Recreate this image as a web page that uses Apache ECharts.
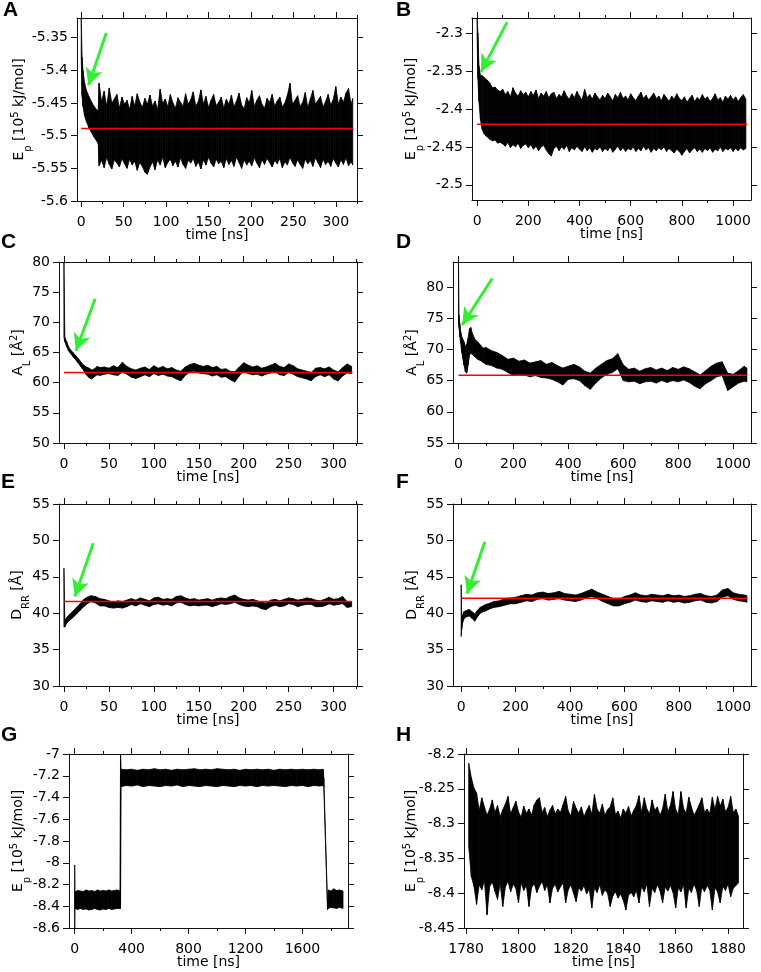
<!DOCTYPE html>
<html>
<head>
<meta charset="utf-8">
<script src="https://cdn.jsdelivr.net/npm/echarts@6/dist/echarts.min.js"></script>
<style>html,body{margin:0;padding:0;background:#fff}#c{width:761px;height:972px}</style>
</head>
<body>
<div id="c"></div>
<script>
// ---------- Panel A : Ep (10^5 kJ/mol), 0-320 ns ----------
const tA = [0,1,2,4,6,9,12,15,18,20,
 21,24,27,30,33,36,39,42,45,48, 51,54,57,60,63,66,69,72,75,78, 81,84,87,90,93,96,99,102,105,108,
 111,114,117,120,123,126,129,132,135,138, 141,144,147,150,153,156,159,162,165,168, 171,174,177,180,183,186,189,192,195,198,
 201,204,207,210,213,216,219,222,225,228, 231,234,237,240,243,246,249,252,255,258, 261,264,267,270,273,276,279,282,285,288,
 291,294,297,300,303,306,309,312,315,318, 320];
const hiA = [-5.32,-5.38,-5.40,-5.42,-5.43,-5.44,-5.448,-5.455,-5.46,-5.462,
 -5.42,-5.448,-5.432,-5.455,-5.427,-5.45,-5.444,-5.437,-5.458,-5.441,
 -5.452,-5.446,-5.46,-5.44,-5.455,-5.436,-5.449,-5.457,-5.443,-5.452,
 -5.438,-5.455,-5.447,-5.46,-5.429,-5.451,-5.444,-5.456,-5.437,-5.45,
 -5.458,-5.442,-5.449,-5.455,-5.436,-5.452,-5.445,-5.433,-5.455,-5.448,
 -5.43,-5.452,-5.44,-5.457,-5.446,-5.437,-5.454,-5.449,-5.441,-5.458,
 -5.444,-5.452,-5.438,-5.456,-5.447,-5.435,-5.453,-5.459,-5.442,-5.45,
 -5.431,-5.455,-5.446,-5.439,-5.452,-5.458,-5.443,-5.449,-5.437,-5.455,
 -5.447,-5.441,-5.456,-5.45,-5.438,-5.42,-5.452,-5.446,-5.439,-5.455,
 -5.449,-5.434,-5.457,-5.444,-5.431,-5.452,-5.446,-5.44,-5.456,-5.448,
 -5.437,-5.453,-5.445,-5.425,-5.452,-5.441,-5.449,-5.435,-5.428,-5.452,
 -5.443];
const loA = [-5.38,-5.44,-5.455,-5.47,-5.478,-5.488,-5.495,-5.502,-5.508,-5.512,
 -5.546,-5.538,-5.549,-5.533,-5.544,-5.551,-5.537,-5.542,-5.548,-5.535,
 -5.543,-5.55,-5.536,-5.545,-5.539,-5.553,-5.541,-5.547,-5.556,-5.559,
 -5.548,-5.54,-5.552,-5.537,-5.545,-5.533,-5.549,-5.541,-5.536,-5.546,
 -5.539,-5.548,-5.534,-5.544,-5.55,-5.538,-5.542,-5.535,-5.547,-5.54,
 -5.551,-5.537,-5.545,-5.533,-5.542,-5.548,-5.536,-5.543,-5.539,-5.549,
 -5.535,-5.544,-5.538,-5.547,-5.533,-5.541,-5.55,-5.537,-5.545,-5.539,
 -5.546,-5.534,-5.542,-5.549,-5.537,-5.544,-5.535,-5.541,-5.548,-5.538,
 -5.543,-5.535,-5.549,-5.54,-5.545,-5.533,-5.542,-5.547,-5.537,-5.544,
 -5.55,-5.536,-5.543,-5.538,-5.547,-5.534,-5.541,-5.549,-5.536,-5.544,
 -5.539,-5.547,-5.535,-5.542,-5.548,-5.537,-5.544,-5.534,-5.546,-5.54,
 -5.545];
const meanA = -5.489, spanA = [0, 320];
const arrowA = [[29.5, -5.343], [8.6, -5.423]];

// ---------- Panel B : Ep, 0-1050 ns ----------
const tB = [0,3,7,13,20,26,33,40,50,60,70,80,90,
 100,110,120,130,140,150,160,170,180,190, 200,210,220,230,240,250,260,270,280,290,
 300,310,320,330,340,350,360,370,380,390, 400,410,420,430,440,450,460,470,480,490,
 500,510,520,530,540,550,560,570,580,590, 600,610,620,630,640,650,660,670,680,690,
 700,710,720,730,740,750,760,770,780,790, 800,810,820,830,840,850,860,870,880,890,
 900,910,920,930,940,950,960,970,980,990, 1000,1010,1020,1030,1040,1050];
const hiB = [-2.28,-2.30,-2.343,-2.356,-2.356,-2.358,-2.36,-2.362,-2.366,-2.372,-2.371,-2.375,-2.377,
 -2.374,-2.381,-2.377,-2.384,-2.372,-2.379,-2.383,-2.376,-2.381,-2.378,
 -2.384,-2.377,-2.382,-2.375,-2.386,-2.379,-2.383,-2.377,-2.385,-2.38,
 -2.378,-2.386,-2.381,-2.384,-2.376,-2.383,-2.387,-2.38,-2.385,-2.377,
 -2.383,-2.388,-2.374,-2.385,-2.381,-2.387,-2.379,-2.384,-2.388,-2.382,
 -2.386,-2.379,-2.384,-2.389,-2.381,-2.385,-2.378,-2.386,-2.383,-2.388,
 -2.38,-2.385,-2.389,-2.383,-2.378,-2.386,-2.382,-2.388,-2.384,-2.379,
 -2.386,-2.383,-2.389,-2.381,-2.385,-2.39,-2.383,-2.387,-2.38,-2.386,
 -2.389,-2.384,-2.391,-2.386,-2.382,-2.39,-2.385,-2.388,-2.381,-2.387,
 -2.384,-2.39,-2.386,-2.38,-2.388,-2.385,-2.391,-2.383,-2.387,-2.382,
 -2.388,-2.384,-2.39,-2.385,-2.381,-2.387];
const loB = [-2.30,-2.36,-2.39,-2.414,-2.427,-2.432,-2.435,-2.437,-2.44,-2.442,-2.441,-2.445,-2.444,
 -2.446,-2.449,-2.444,-2.451,-2.447,-2.45,-2.445,-2.452,-2.448,-2.446,
 -2.451,-2.447,-2.453,-2.449,-2.455,-2.45,-2.448,-2.454,-2.459,-2.462,
 -2.452,-2.449,-2.455,-2.45,-2.453,-2.448,-2.456,-2.451,-2.454,-2.449,
 -2.453,-2.456,-2.45,-2.455,-2.451,-2.457,-2.452,-2.454,-2.45,-2.456,
 -2.452,-2.455,-2.45,-2.457,-2.453,-2.449,-2.455,-2.451,-2.456,-2.452,
 -2.454,-2.45,-2.456,-2.452,-2.455,-2.449,-2.454,-2.451,-2.457,-2.452,
 -2.455,-2.451,-2.454,-2.45,-2.456,-2.452,-2.455,-2.458,-2.453,-2.456,
 -2.461,-2.456,-2.452,-2.458,-2.454,-2.451,-2.456,-2.453,-2.457,-2.452,
 -2.455,-2.451,-2.457,-2.453,-2.455,-2.45,-2.456,-2.452,-2.454,-2.451,
 -2.456,-2.452,-2.455,-2.451,-2.454,-2.452];
const meanB = -2.42, spanB = [0, 1055];
const arrowB = [[117, -2.2854], [15.6, -2.351]];

// ---------- Panel C : AL (Å^2), 0-320 ns ----------
const tC = [0,1,3,5,7,10,13,16,19,22,25,28,31,34,37,40,45,50,55,60,65,70,75,80,85,90,95,100,105,110,115,120,125,130,135,140,145,150,155,160,165,170,175,180,185,190,195,200,205,210,215,220,225,230,235,240,245,250,255,260,265,270,275,280,285,290,295,300,305,310,315,320];
const hiC = [80,67.5,66.8,66.0,65.5,65.0,64.5,64.0,63.4,62.9,62.6,62.4,62.1,62.3,62.7,62.5,
 62.6,62.4,62.8,62.5,63.4,62.7,62.3,62.1,62.4,62.6,
 62.2,62.8,62.4,62.7,62.3,62.5,62.1,61.9,62.6,63.0,
 63.2,62.9,62.7,62.9,62.5,62.7,62.2,62.3,61.9,61.8,
 62.6,63.3,62.9,62.6,62.8,62.4,62.6,62.9,63.2,62.7,
 62.5,63.1,62.8,62.3,62.1,61.9,61.7,62.4,62.5,62.3,
 62.6,62.1,61.8,62.5,63.1,62.7];
const loC = [67.5,66.8,66.0,65.3,64.9,64.3,63.8,63.2,62.6,62.0,61.3,60.8,60.6,61.0,61.3,61.2,
 61.4,61.5,61.3,61.2,61.8,61.4,60.9,60.7,61.0,61.3,
 61.0,61.5,61.2,61.4,61.1,61.0,60.6,60.3,61.2,61.8,
 61.9,61.6,61.5,61.4,61.1,61.3,60.9,61.0,60.5,60.1,
 61.1,61.9,61.5,61.3,61.4,61.1,61.4,61.6,61.8,61.3,
 61.2,61.7,61.4,61.0,60.8,60.6,60.3,61.0,61.3,61.0,
 61.3,60.6,60.3,61.1,61.6,61.5];
const meanC = 61.7, spanC = [0, 321];
const arrowC = [[34.7, 73.9], [13.4, 65.3]];

// ---------- Panel D : AL (Å^2), 0-1050 ns ----------
const tD = [0,2,5,8,12,16,20,25,30,35,40,45,50,60,70,80,90,100,120,140,160,180,200,220,240,260,280,300,320,340,360,380,400,420,440,460,480,500,520,540,560,580,600,620,640,660,680,700,720,740,760,780,800,820,840,860,880,900,920,940,960,980,1000,1020,1040,1050];
const hiD = [84,75.5,74,72.8,72,71.6,71.2,70.5,70.8,71.8,73.3,73.5,72.6,71.6,71.2,70.7,70.2,70.3,
 69.8,69.5,69.0,68.4,68.6,68.1,68.3,67.8,68.0,68.2,
 67.6,67.9,67.4,67.0,67.3,67.6,67.2,66.5,66.2,67.0,
 67.6,68.2,68.5,69.3,67.5,66.8,67.0,66.5,66.9,67.1,
 66.7,67.0,66.6,67.1,66.8,67.2,66.9,66.4,65.9,66.6,
 67.3,67.8,68.0,66.2,66.0,66.6,67.3,67.0];
const loD = [74.5,73.5,72,71,69.5,68.5,67.5,66.4,66.2,67.5,69.0,69.5,69.2,68.8,68.4,68.2,67.9,67.6,
 67.4,67.0,66.8,66.3,65.8,66.0,65.9,65.6,65.8,65.5,
 65.4,65.2,64.8,64.3,65.2,65.3,65.0,64.2,63.6,64.6,
 65.4,66.0,66.3,66.9,65.0,64.8,64.9,64.5,64.8,64.9,
 64.6,65.0,64.7,65.0,64.8,65.1,64.7,64.1,63.7,64.5,
 65.0,65.6,65.8,63.4,64.0,64.6,64.9,64.8];
const meanD = 65.85, spanD = [0, 1050];
const arrowD = [[122.8, 81.35], [13.5, 73.9]];

// ---------- Panel E : DRR (Å), 0-320 ns ----------
const tE = [0,1,3,6,10,14,18,22,26,30,35,40,45,50,55,60,65,70,75,80,85,90,95,100,105,110,115,120,125,130,135,140,145,150,155,160,165,170,175,180,185,190,195,200,205,210,215,220,225,230,235,240,245,250,255,260,265,270,275,280,285,290,295,300,305,310,315,320];
const hiE = [46.2,39.0,39.4,39.8,40.3,40.8,41.3,41.9,42.2,42.4,42.3,
 42.0,41.9,41.7,41.5,41.7,41.6,41.8,42.0,41.8,42.1,
 41.9,41.7,42.1,42.2,41.9,42.0,41.9,42.3,42.4,42.1,
 41.9,42.0,41.8,41.9,42.0,41.8,42.0,42.1,42.0,42.3,
 42.5,42.1,41.9,41.8,41.9,41.7,41.5,41.4,41.8,41.9,
 41.7,41.9,42.1,42.0,41.8,41.9,42.1,42.0,41.8,41.7,
 41.9,42.2,41.9,42.0,42.3,41.6,41.6];
const loE = [38.1,38.1,38.6,39.0,39.4,39.9,40.4,40.9,41.3,41.6,41.4,
 41.0,41.0,40.8,40.7,40.8,40.7,40.9,41.2,41.0,41.3,
 41.1,40.9,41.2,41.3,41.1,41.2,41.0,41.4,41.5,41.2,
 41.0,41.1,41.0,41.1,41.1,40.9,41.1,41.3,41.2,41.3,
 41.5,41.2,41.0,40.9,41.0,40.9,40.6,40.5,40.9,41.1,
 40.9,41.0,41.3,41.2,40.9,41.1,41.2,41.2,40.9,40.9,
 41.0,41.3,41.1,41.2,41.3,40.8,40.9];
const meanE = 41.6, spanE = [0, 320];
const arrowE = [[32.6, 49.6], [12.2, 42.3]];

// ---------- Panel F : DRR (Å), 0-1050 ns ----------
const tF = [0,2,5,10,15,20,30,40,50,60,70,80,90,100,120,140,160,180,200,220,240,260,280,300,320,340,360,380,400,420,440,460,480,500,520,540,560,580,600,620,640,660,680,700,720,740,760,780,800,820,840,860,880,900,920,940,960,980,1000,1020,1040,1050];
const hiF = [43.9,39.2,39.7,40.2,40.3,40.4,40.5,40.2,39.9,40.4,40.8,41.0,41.2,41.3,
 41.6,41.7,42.0,42.1,42.2,42.4,42.6,42.5,42.8,42.9,
 42.7,42.8,43.0,42.7,42.6,42.5,42.7,43.0,43.3,42.9,
 42.6,42.3,42.0,41.9,42.3,42.5,42.8,42.5,42.4,42.6,
 42.5,42.4,42.6,42.4,42.5,42.3,42.4,42.6,42.7,42.4,
 42.3,42.5,43.2,43.4,42.8,42.6,42.5,42.4];
const loF = [36.8,37.8,38.6,39.2,39.4,39.5,39.6,39.3,38.9,39.5,40.0,40.2,40.3,40.5,
 40.8,40.9,41.1,41.3,41.3,41.5,41.7,41.6,41.9,42.0,
 41.8,41.9,42.0,41.8,41.7,41.6,41.8,42.1,42.3,42.0,
 41.6,41.3,41.0,41.0,41.3,41.5,41.8,41.6,41.5,41.7,
 41.6,41.5,41.7,41.5,41.6,41.4,41.5,41.7,41.8,41.5,
 41.4,41.6,42.2,42.4,41.9,41.7,41.6,41.5];
const meanF = 42.05, spanF = [0, 1050];
const arrowF = [[87, 49.8], [22, 42.7]];

// ---------- Panel G : Ep, 0-1890 ns ----------
const tG = [0,2,20,40,60,80,100,120,140,160,180,200,220,240,260,280,300,318,322,326,360,400,440,480,520,560,600,640,680,720,760,800,840,880,920,960,1000,1040,1080,1120,1160,1200,1240,1280,1320,1360,1400,1440,1480,1520,1560,1600,1640,1680,1720,1745,1750,1776,1782,1800,1820,1840,1860,1885];
const hiG = [-8.02,-8.27,-8.255,-8.26,-8.265,-8.25,-8.26,-8.255,-8.265,-8.25,-8.26,-8.255,-8.26,-8.25,-8.26,-8.255,-8.25,-8.26,
 -7.0,-7.14,
 -7.145,-7.14,-7.15,-7.14,-7.145,-7.135,-7.145,-7.14,-7.15,-7.14,
 -7.145,-7.14,-7.135,-7.145,-7.14,-7.145,-7.135,-7.14,-7.145,-7.14,
 -7.15,-7.14,-7.145,-7.14,-7.145,-7.14,-7.15,-7.14,-7.145,-7.14,
 -7.145,-7.14,-7.145,-7.14,-7.145,
 -7.14,-7.22,-8.38,-8.25,-8.26,-8.24,-8.255,-8.25,-8.26];
const loG = [-8.6,-8.42,-8.43,-8.42,-8.43,-8.425,-8.435,-8.43,-8.42,-8.43,-8.435,-8.425,-8.43,-8.42,-8.43,-8.425,-8.42,-8.42,
 -8.42,-7.3,
 -7.29,-7.295,-7.285,-7.3,-7.29,-7.295,-7.3,-7.29,-7.295,-7.285,
 -7.3,-7.29,-7.295,-7.3,-7.29,-7.295,-7.3,-7.29,-7.295,-7.3,
 -7.29,-7.295,-7.29,-7.3,-7.29,-7.295,-7.29,-7.295,-7.3,-7.29,
 -7.295,-7.29,-7.3,-7.29,-7.295,
 -7.29,-7.30,-8.43,-8.42,-8.41,-8.415,-8.42,-8.41,-8.42];

// ---------- Panel H : Ep, 1780-1885 ns ----------
const tH = [1781,1782,1783,
 1784,1785,1786,1787,1788,1789,1790,1791,1792,1793, 1794,1795,1796,1797,1798,1799,1800,1801,1802,1803,
 1804,1805,1806,1807,1808,1809,1810,1811,1812,1813, 1814,1815,1816,1817,1818,1819,1820,1821,1822,1823,
 1824,1825,1826,1827,1828,1829,1830,1831,1832,1833, 1834,1835,1836,1837,1838,1839,1840,1841,1842,1843,
 1844,1845,1846,1847,1848,1849,1850,1851,1852,1853, 1854,1855,1856,1857,1858,1859,1860,1861,1862,1863,
 1864,1865,1866,1867,1868,1869,1870,1871,1872,1873, 1874,1875,1876,1877,1878,1879,1880,1881,1882,1883, 1884];
const hiH = [-8.213,-8.234,-8.249,
 -8.256,-8.281,-8.263,-8.276,-8.288,-8.279,-8.266,-8.284,-8.274,-8.29,
 -8.28,-8.272,-8.261,-8.286,-8.277,-8.268,-8.283,-8.291,-8.275,-8.285,
 -8.279,-8.288,-8.273,-8.266,-8.263,-8.284,-8.277,-8.29,-8.281,-8.274,
 -8.286,-8.279,-8.284,-8.273,-8.261,-8.282,-8.289,-8.268,-8.278,-8.285,
 -8.276,-8.29,-8.281,-8.274,-8.287,-8.258,-8.279,-8.285,-8.272,-8.288,
 -8.28,-8.276,-8.263,-8.287,-8.282,-8.292,-8.279,-8.285,-8.275,-8.289,
 -8.281,-8.274,-8.26,-8.284,-8.263,-8.279,-8.286,-8.266,-8.281,-8.276,
 -8.288,-8.279,-8.258,-8.283,-8.274,-8.254,-8.28,-8.287,-8.254,-8.278,
 -8.285,-8.262,-8.276,-8.288,-8.281,-8.273,-8.263,-8.284,-8.279,-8.286,
 -8.262,-8.28,-8.261,-8.275,-8.265,-8.283,-8.277,-8.261,-8.284,-8.279,
 -8.29];
const loH = [-8.333,-8.376,-8.39,
 -8.416,-8.388,-8.395,-8.382,-8.431,-8.39,-8.384,-8.397,-8.409,-8.386,
 -8.419,-8.391,-8.383,-8.398,-8.387,-8.393,-8.414,-8.385,-8.396,-8.389,
 -8.419,-8.392,-8.386,-8.399,-8.39,-8.383,-8.396,-8.388,-8.414,-8.393,
 -8.387,-8.398,-8.391,-8.385,-8.414,-8.395,-8.388,-8.4,-8.412,-8.392,
 -8.397,-8.389,-8.401,-8.394,-8.421,-8.392,-8.399,-8.388,-8.403,-8.395,
 -8.4,-8.419,-8.404,-8.398,-8.407,-8.401,-8.41,-8.424,-8.403,-8.399,
 -8.405,-8.396,-8.414,-8.39,-8.398,-8.387,-8.419,-8.393,-8.399,-8.388,
 -8.396,-8.414,-8.391,-8.397,-8.389,-8.399,-8.421,-8.392,-8.398,-8.388,
 -8.421,-8.393,-8.399,-8.387,-8.396,-8.419,-8.391,-8.398,-8.389,-8.395,
 -8.424,-8.392,-8.398,-8.414,-8.39,-8.396,-8.387,-8.405,-8.393,-8.389,
 -8.385];

// ---------- tick values ----------
const xMaj320 = [0,50,100,150,200,250,300];
const xMin320 = [25,75,125,175,225,275,325];
const xMaj1000 = [0,200,400,600,800,1000];
const xMin1000 = [100,300,500,700,900];
const xMajG = [0,400,800,1200,1600];
const xMinG = [200,600,1000,1400,1800];
const xMajH = [1780,1800,1820,1840,1860,1880];
const xMinH = [1790,1810,1830,1850,1870];
const yMajA = [-5.6,-5.55,-5.5,-5.45,-5.4,-5.35];
const yMajB = [-2.5,-2.45,-2.4,-2.35,-2.3];
const yMajC = [50,55,60,65,70,75,80];
const yMajD = [55,60,65,70,75,80];
const yMajEF = [30,35,40,45,50,55];
const yMajG = [-8.6,-8.4,-8.2,-8,-7.8,-7.6,-7.4,-7.2,-7];
const yMajH = [-8.45,-8.4,-8.35,-8.3,-8.25,-8.2];

// ---------- text ----------
const nameEp = 'E{sub|p} [10{sup|5} kJ/mol]';
const nameAL = 'A{sub|L} [Å{sup|2}]';
const nameDRR = 'D{sub|RR} [Å]';
const xName = 'time [ns]';

// ---------- layout / style ----------
const FONT = "'DejaVu Sans', sans-serif";
const AX = '#111';
const GREEN = '#33ee33';
const panels = [
  {tag:'A', tagPos:[3,0],   box:[77,18,280,183],  xr:[-5,325],   yr:[-5.6,-5.32], t:tA, hi:hiA, lo:loA, mean:meanA, span:spanA, arrow:arrowA, xMaj:xMaj320, xMinB:xMin320, xMinT:xMin320, yMaj:yMajA, yName:nameEp, gap:44},
  {tag:'B', tagPos:[396,0], box:[472,18,279,182], xr:[-20,1070], yr:[-2.52,-2.28], t:tB, hi:hiB, lo:loB, mean:meanB, span:spanB, arrow:arrowB, xMaj:xMaj1000, xMinB:xMin1000, xMinT:xMin1000, yMaj:yMajB, yName:nameEp, gap:47},
  {tag:'C', tagPos:[1,232], box:[59,262,298,181], xr:[-5.5,326], yr:[50,80], t:tC, hi:hiC, lo:loC, mean:meanC, span:spanC, arrow:arrowC, xMaj:xMaj320, xMinB:xMin320, xMinT:xMin320, yMaj:yMajC, yName:nameAL, gap:27},
  {tag:'D', tagPos:[396,232], box:[453,262,298,181], xr:[-20,1065], yr:[55,84], t:tD, hi:hiD, lo:loD, mean:meanD, span:spanD, arrow:arrowD, xMaj:xMaj1000, xMinB:xMin1000, xMinT:[], yMaj:yMajD, yName:nameAL, gap:27},
  {tag:'E', tagPos:[1,472], box:[59,504,298,182], xr:[-5.5,326], yr:[30,55], t:tE, hi:hiE, lo:loE, mean:meanE, span:spanE, arrow:arrowE, xMaj:xMaj320, xMinB:xMin320, xMinT:xMin320, yMaj:yMajEF, yName:nameDRR, gap:28},
  {tag:'F', tagPos:[396,472], box:[453,504,298,182], xr:[-30,1065], yr:[30,55], t:tF, hi:hiF, lo:loF, mean:meanF, span:spanF, arrow:arrowF, xMaj:xMaj1000, xMinB:xMin1000, xMinT:xMin1000, yMaj:yMajEF, yName:nameDRR, gap:27},
  {tag:'G', tagPos:[1,725], box:[69,754,279,174], xr:[-40,1920], yr:[-8.6,-7], t:tG, hi:hiG, lo:loG, mean:null, xMaj:xMajG, xMinB:xMinG, xMinT:xMinG, yMaj:yMajG, yName:nameEp, gap:37},
  {tag:'H', tagPos:[396,725], box:[464,754,279,174], xr:[1779.2,1885.7], yr:[-8.45,-8.2], t:tH, hi:hiH, lo:loH, mean:null, xMaj:xMajH, xMinB:xMinH, xMinT:[], yMaj:yMajH, yName:nameEp, gap:39}
];

const grid = [], xAxis = [], yAxis = [], series = [], graphic = [];
const fmt = v => String(v);
const richName = {
  fontFamily: FONT, fontSize: 14, color: '#000', lineHeight: 28,
  rich: {
    sub: {fontFamily: FONT, fontSize: 10, lineHeight: 10, verticalAlign: 'bottom', color: '#000'},
    sup: {fontFamily: FONT, fontSize: 10, lineHeight: 10, verticalAlign: 'top', padding: [5, 0, 0, 0], color: '#000'}
  }
};

panels.forEach((p, i) => {
  grid.push({left: p.box[0], top: p.box[1], width: p.box[2], height: p.box[3], containLabel: false, outerBoundsMode: 'none'});
  const xb = {type: 'value', gridIndex: i, min: p.xr[0], max: p.xr[1], splitLine: {show: false}, silent: true};
  const line = {show: true, onZero: false, lineStyle: {color: AX, width: 1}};
  const noLine = {show: false, onZero: false};
  const tick = (vals, len) => ({show: true, inside: false, length: len, customValues: vals, lineStyle: {color: AX, width: 1}});
  xAxis.push(Object.assign({}, xb, {position: 'bottom', axisLine: line, axisTick: tick(p.xMaj, 6),
    axisLabel: {show: true, customValues: p.xMaj, margin: 14, fontFamily: FONT, fontSize: 14, color: '#000', formatter: fmt},
    name: xName, nameLocation: 'middle', nameGap: 26, nameMoveOverlap: false,
    nameTextStyle: {fontFamily: FONT, fontSize: 14, color: '#000', lineHeight: 16}}));
  xAxis.push(Object.assign({}, xb, {position: 'bottom', axisLine: noLine, axisTick: tick(p.xMinB, 3), axisLabel: {show: false}}));
  xAxis.push(Object.assign({}, xb, {position: 'top', axisLine: line, axisTick: tick(p.xMaj, 6), axisLabel: {show: false}}));
  xAxis.push(Object.assign({}, xb, {position: 'top', axisLine: noLine, axisTick: tick(p.xMinT, 3), axisLabel: {show: false}}));
  const yb = {type: 'value', gridIndex: i, min: p.yr[0], max: p.yr[1], splitLine: {show: false}, silent: true};
  yAxis.push(Object.assign({}, yb, {position: 'left', axisLine: line, axisTick: tick(p.yMaj, 6),
    axisLabel: {show: true, customValues: p.yMaj, margin: 9, fontFamily: FONT, fontSize: 14, color: '#000', formatter: fmt},
    name: p.yName, nameLocation: 'middle', nameGap: p.gap, nameRotate: 90, nameMoveOverlap: false, nameTextStyle: richName}));
  yAxis.push(Object.assign({}, yb, {position: 'right', axisLine: line, axisTick: tick(p.yMaj, 6), axisLabel: {show: false}}));

  const band = [];
  for (let k = 0; k < p.t.length - 1; k++) {
    band.push([p.t[k], p.lo[k], p.hi[k], p.t[k + 1], p.lo[k + 1], p.hi[k + 1]]);
  }
  series.push({
    type: 'custom', xAxisIndex: 4 * i, yAxisIndex: 2 * i, clip: true, silent: true, animation: false,
    encode: {x: [0, 3], y: [1, 2, 4, 5]}, data: band,
    renderItem: (params, api) => {
      const a = api.coord([api.value(0), api.value(1)]);
      const b = api.coord([api.value(0), api.value(2)]);
      const c = api.coord([api.value(3), api.value(5)]);
      const d = api.coord([api.value(3), api.value(4)]);
      return {type: 'polygon', shape: {points: [a, b, c, d]}, style: {fill: '#000', stroke: '#000', lineWidth: 0.8}};
    }
  });
  if (p.mean !== null) {
    series.push({
      type: 'line', xAxisIndex: 4 * i, yAxisIndex: 2 * i, symbol: 'none', silent: true, animation: false, z: 3,
      data: [[p.span[0], p.mean], [p.span[1], p.mean]],
      lineStyle: {color: '#ff0000', width: 1.5},
      markLine: {
        silent: true, animation: false, symbol: ['none', 'arrow'], symbolSize: [13, 17],
        label: {show: false}, emphasis: {disabled: true},
        lineStyle: {color: GREEN, width: 3, type: 'solid'},
        data: [[{coord: p.arrow[0]}, {coord: p.arrow[1]}]]
      }
    });
  }
  graphic.push({type: 'text', left: p.tagPos[0], top: p.tagPos[1], style: {text: p.tag, font: 'bold 21px "Liberation Sans", Arial, sans-serif', fill: '#000'}});
});

const chart = echarts.init(document.getElementById('c'), null, {renderer: 'canvas'});
chart.setOption({animation: false, backgroundColor: '#fff', grid, xAxis, yAxis, series, graphic});
</script>
</body>
</html>
